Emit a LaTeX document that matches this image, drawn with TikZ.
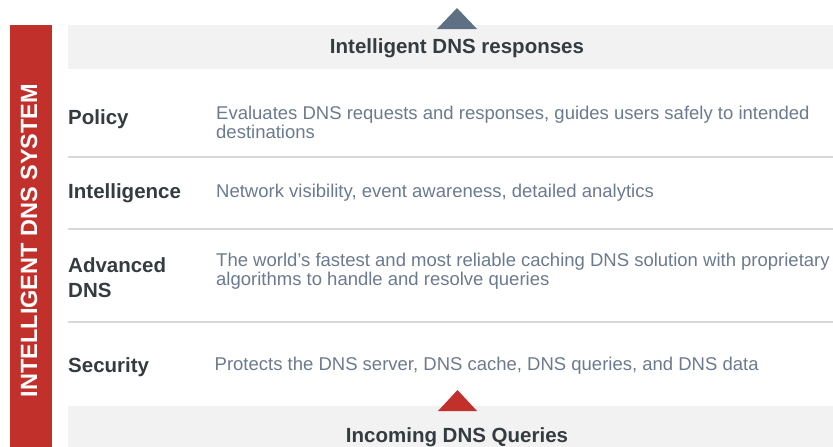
\documentclass[tikz,border=0pt]{standalone}
\usepackage{fontspec}
\setmainfont{Liberation Sans}
\definecolor{barred}{HTML}{C1302A}
\definecolor{bandgray}{HTML}{F2F2F2}
\definecolor{rulegray}{HTML}{D9D9D9}
\definecolor{labelgray}{HTML}{343C3F}
\definecolor{descslate}{HTML}{6B7A8E}
\definecolor{upslate}{HTML}{5E7083}
\begin{document}
\begin{tikzpicture}[x=1pt,y=-1pt,
  band/.style={fill=bandgray,draw=none},
  rowrule/.style={draw=rulegray,line width=1.5pt},
  headtext/.style={anchor=base,inner sep=0pt,text=labelgray,font=\fontsize{20.5}{24.5}\selectfont\bfseries},
  lbl/.style={anchor=base west,inner sep=0pt,text=labelgray,align=left,font=\fontsize{20.5}{24.5}\selectfont\bfseries},
  desc/.style={anchor=base west,inner sep=0pt,text=descslate,align=left,font=\fontsize{18.5}{19.5}\selectfont},
  bartext/.style={anchor=base,inner sep=0pt,rotate=90,text=white,font=\fontsize{23.5}{28}\selectfont\bfseries}]
\useasboundingbox (0,0) rectangle (833,447);

% vertical system bar
\fill[barred] (10,25) rectangle (52,447);
\node[bartext] (system) at (37,240.5) {INTELLIGENT DNS SYSTEM};

% output and input bands
\fill[band] (68,25) rectangle (833,69);
\fill[band] (68,406) rectangle (833,447);
\fill[upslate] (437,29) -- (457,8) -- (477,29) -- cycle;
\fill[barred] (438,411) -- (457.5,390) -- (477,411) -- cycle;
\node[headtext] (out) at (457,53) {Intelligent DNS responses};
\node[headtext] (in) at (457,442) {Incoming DNS Queries};

% row separators
\draw[rowrule] (68,157) -- (833,157);
\draw[rowrule] (68,229) -- (833,229);
\draw[rowrule] (68,322) -- (833,322);

% layer names (multi-line nodes sit on the baseline of their last line)
\node[lbl] (policy) at (68,124.5) {Policy};
\node[lbl] (intel) at (68,198.5) {Intelligence};
\node[lbl] (adv) at (68,297) {Advanced\\DNS};
\node[lbl] (sec) at (68,372.5) {Security};

% layer descriptions
\node[desc] (policyd) at (216,138.5) {Evaluates DNS requests and responses, guides users safely to intended\\destinations};
\node[desc] (inteld) at (216,197.5) {Network visibility, event awareness, detailed analytics};
\node[desc] (advd) at (216,285.5) {The world’s fastest and most reliable caching DNS solution with proprietary\\algorithms to handle and resolve queries};
\node[desc] (secd) at (214.5,370.5) {Protects the DNS server, DNS cache, DNS queries, and DNS data};
\end{tikzpicture}
\end{document}
